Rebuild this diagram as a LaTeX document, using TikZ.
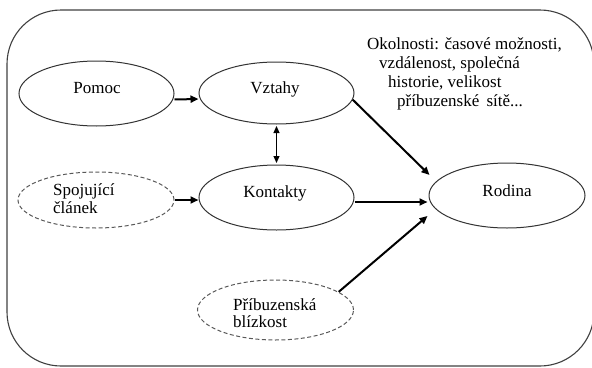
\documentclass[tikz,border=0pt]{standalone}
\usepackage{fontspec}
\setmainfont{LiberationSerif-Regular.ttf}
\usetikzlibrary{shapes.geometric,arrows.meta}
\begin{document}
\begin{tikzpicture}[x=1pt,y=-1pt,
  oval/.style={ellipse,draw=black!80,line width=1pt,inner sep=0pt,minimum width=155pt,minimum height=#1},
  oval/.default=64pt,
  dashoval/.style={ellipse,draw=black!65,line width=1pt,dash pattern=on 4pt off 2.5pt,inner sep=0pt,minimum width=156pt,minimum height=#1},
  dashoval/.default=58pt,
  lbl/.style={inner sep=0pt,font=\fontsize{17}{18}\selectfont},
  thick arrow/.style={line width=2pt,-{Triangle[length=8pt,width=7pt]}},
  thin arrow/.style={line width=1pt,{Triangle[length=7pt,width=6pt]}-{Triangle[length=7pt,width=6pt]}}
]
\useasboundingbox (0,0) rectangle (592,367);
\clip (0,0) rectangle (592,367);
\draw[black!75,line width=1.1pt,rounded corners=54pt] (7,10) rectangle (594,366);

% ellipses
\node[oval=65pt] (pomoc) at (96.5,93.5) {};
\node[oval=62pt] (vztahy) at (276.5,93) {};
\node[dashoval=56pt] (spoj) at (96,200) {};
\node[oval=65pt] (kontakty) at (276.5,197.5) {};
\node[oval=65pt,minimum width=156pt] (rodina) at (507,195.5) {};
\node[dashoval=60pt] (pribuz) at (275.5,310) {};

% labels
\node[lbl,anchor=base] (tpomoc) at (97,93) {Pomoc};
\node[lbl,anchor=base] (tvztahy) at (275,93) {Vztahy};
\node[lbl,anchor=base] (tkontakty) at (275,197) {Kontakty};
\node[lbl,anchor=base] (trodina) at (507,196) {Rodina};
\node[lbl,anchor=base west] (tspoj1) at (53,195) {Spojující};
\node[lbl,anchor=base west] (tspoj2) at (53,213) {článek};
\node[lbl,anchor=base west] (tpribuz1) at (233,310) {Příbuzenská};
\node[lbl,anchor=base west] (tpribuz2) at (233,327) {blízkost};

\node[lbl,anchor=base west] (ok1) at (367,49) {Okolnosti: časové možnosti,};
\node[lbl,anchor=base west] (ok2) at (379,68) {vzdálenost, společná};
\node[lbl,anchor=base west] (ok3) at (388,87) {historie, velikost};
\node[lbl,anchor=base west] (ok4) at (397,106) {příbuzenské\hspace{3pt} sítě...};

% connectors
\draw[thick arrow] ([yshift=-6pt]pomoc.east) -- ([yshift=-6pt]vztahy.west);
\draw[thick arrow] (spoj.east) -- (spoj.east -| kontakty.west);
\draw[thin arrow,shorten <=1.5pt,shorten >=1.5pt] (vztahy.south) -- (kontakty.north);
\draw[thick arrow] (vztahy.-5) -- ([xshift=1pt,yshift=20.5pt]rodina.west);
\draw[thick arrow] ([yshift=-4.5pt]kontakty.east) -- ([yshift=-4.5pt,xshift=-1pt]kontakty.east -| rodina.west);
\draw[thick arrow] (pribuz.16) -- ([xshift=-1pt,yshift=-20.5pt]rodina.west);
\end{tikzpicture}
\end{document}
